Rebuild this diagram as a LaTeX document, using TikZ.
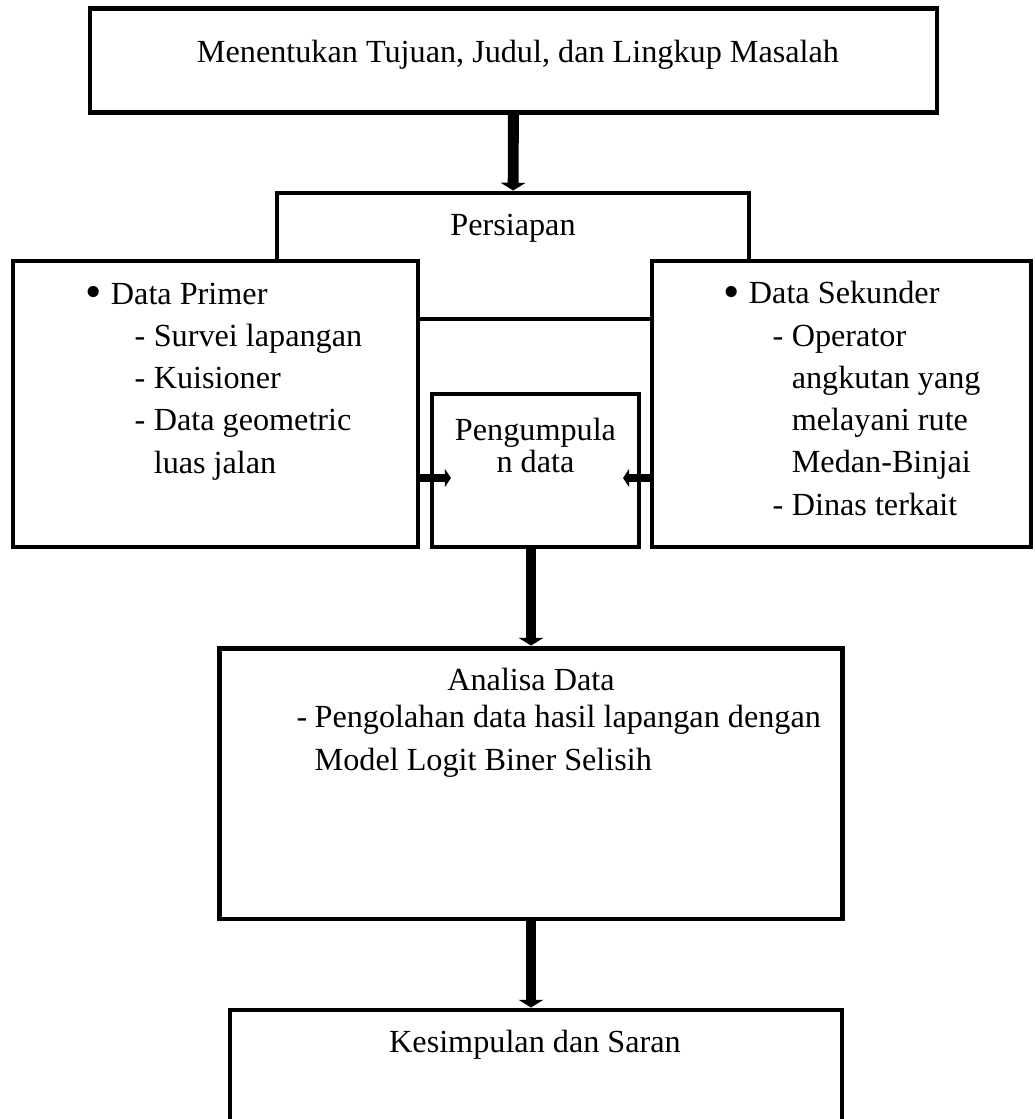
\documentclass[tikz,border=0pt]{standalone}
\usepackage{graphicx}
\usepackage{fontspec}
\setmainfont{Liberation Serif}
\usetikzlibrary{arrows.meta}

\newcommand{\bulletline}[1]{\makebox[9.8pt][l]{\raisebox{-1.2pt}{\scalebox{1.45}{\textbullet}}}#1}
\newcommand{\dashline}[1]{\hspace*{18.9pt}\makebox[7.4pt][l]{-}#1}
\newcommand{\contline}[1]{\hspace*{26.3pt}#1}

\begin{document}
\begin{tikzpicture}[x=0.385pt, y=-0.385pt,
        box/.style={draw, line width=1.9pt, fill=white, inner sep=0pt},
        txt/.style={inner sep=0pt, font=\fontsize{12.4}{16.25}\selectfont},
        flow/.style={-{Triangle[length=3pt, width=9.5pt]}, line width=4.2pt},
        sideflow/.style={-{Triangle[length=2.4pt, width=7pt]}, line width=3pt}]
        \useasboundingbox (0,0) rectangle (1035,1119);

        \node [box, minimum width=326.1pt, minimum height=39.7pt] (judul) at (513.5,60.5) {};
        \node [box, minimum width=181.7pt, minimum height=48.5pt] (persiapan) at (513,256) {};
        \node [box, minimum width=155.9pt, minimum height=110.1pt] (primer) at (215.5,404) {};
        \node [box, minimum width=145.9pt, minimum height=110.1pt] (sekunder) at (841.5,404) {};
        \node [box, minimum width=79.7pt, minimum height=58.9pt] (kumpul) at (535.5,470.5) {};
        \node [box, minimum width=239.5pt, minimum height=104.3pt] (analisa) at (531,783.5) {};
        \node [box, minimum width=235.6pt, minimum height=53.9pt] (simpul) at (536,1080) {};

        % base anchor of a multi-line node = baseline of its last line
        \node [txt, anchor=base] (tjudul) at (518,62) {Menentukan Tujuan, Judul, dan Lingkup Masalah};
        \node [txt, anchor=base] (tpersiapan) at (513,235) {Persiapan};
        \node [txt, anchor=base west, align=left] (tprimer) at (85,473)
            {\bulletline{Data Primer}\\
             \dashline{Survei lapangan}\\
             \dashline{Kuisioner}\\
             \dashline{Data geometric}\\
             \contline{luas jalan}};
        \node [txt, anchor=base west, align=left] (tsekunder) at (723,515)
            {\bulletline{Data Sekunder}\\
             \dashline{Operator}\\
             \contline{angkutan yang}\\
             \contline{melayani rute}\\
             \contline{Medan-Binjai}\\
             \dashline{Dinas terkait}};
        \node [txt, anchor=base, align=center, font=\fontsize{12.4}{11.2}\selectfont] (tkumpul) at (535.5,472)
            {Pengumpula\\n data};
        \node [txt, anchor=base] (tanalisa) at (531,690) {Analisa Data};
        \node [txt, anchor=base west, align=left, font=\fontsize{12.4}{16.5}\selectfont] (tolah) at (296,770)
            {\makebox[7pt][l]{-}Pengolahan data hasil lapangan dengan\\
             \hspace*{7pt}Model Logit Biner Selisih};
        \node [txt, anchor=base] (tsimpul) at (535,1052) {Kesimpulan dan Saran};

        \coordinate (pin) at (451,478);
        \coordinate (sin) at (623,478);

        \draw [flow] (judul) -- (persiapan);
        \draw [sideflow] (primer.east |- pin) -- (pin);
        \draw [sideflow] (sekunder.west |- sin) -- (sin);
        \draw [flow] (analisa.north |- kumpul.south) -- (analisa.north);
        \draw [flow] (analisa.south) -- (analisa.south |- simpul.north);
    \end{tikzpicture}
\end{document}
